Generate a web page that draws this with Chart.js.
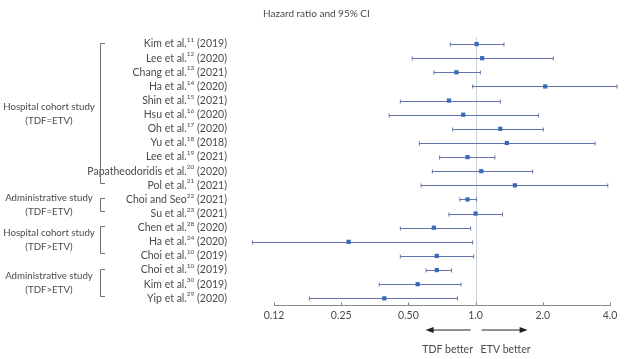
<!DOCTYPE html>
<html>
<head>
<meta charset="utf-8">
<script src="https://cdn.jsdelivr.net/npm/chart.js@4.4.1/dist/chart.umd.min.js"></script>
<style>
  html, body { margin: 0; padding: 0; background: #fff; }
  #wrap { width: 627px; height: 359px; position: relative; }
</style>
</head>
<body>
<div id="wrap"><canvas id="forest"></canvas></div>
<script>
// studies, top to bottom
const studies = ['Kim et al.', 'Lee et al.', 'Chang et al.', 'Ha et al.', 'Shin et al.', 'Hsu et al.',
  'Oh et al.', 'Yu et al.', 'Lee et al.', 'Papatheodoridis et al.', 'Pol et al.', 'Choi and Seo',
  'Su et al.', 'Chen et al.', 'Ha et al.', 'Choi et al.', 'Choi et al.', 'Kim et al.', 'Yip et al.']
const refs = ['11', '12', '13', '14', '15', '16', '17', '18', '19', '20', '21', '22', '23', '28', '24', '10', '10', '30', '29']
const years = ['2019', '2020', '2021', '2020', '2021', '2020', '2020', '2018', '2021', '2020', '2021', '2021',
  '2021', '2020', '2020', '2019', '2019', '2019', '2020']

// hazard ratio and 95% CI
const hr    = [1.01, 1.07, 0.82, 2.05, 0.76, 0.88, 1.29, 1.38, 0.92, 1.06, 1.50, 0.92, 1.00, 0.65, 0.27, 0.67, 0.67, 0.55, 0.39]
const lower = [0.77, 0.52, 0.65, 0.97, 0.46, 0.41, 0.79, 0.56, 0.69, 0.64, 0.57, 0.85, 0.76, 0.46, 0.10, 0.46, 0.60, 0.37, 0.18]
const upper = [1.34, 2.23, 1.05, 4.30, 1.29, 1.91, 2.01, 3.43, 1.22, 1.80, 3.91, 1.01, 1.32, 0.95, 0.97, 0.98, 0.78, 0.86, 0.83]

// groups (row numbers, 1 = top)
const groupTitles = ['Hospital cohort study', 'Administrative study', 'Hospital cohort study', 'Administrative study']
const groupSubs = ['(TDF=ETV)', '(TDF=ETV)', '(TDF>ETV)', '(TDF>ETV)']
const groupFirst = [1, 12, 14, 17]
const groupLast = [11, 13, 16, 19]

// x axis
const xTicks = [0.125, 0.25, 0.5, 1, 2, 4]
const xTickLabels = ['0.12', '0.25', '0.50', '1.0', '2.0', '4.0']

const FONT = 'Lato, "Open Sans", sans-serif'
const TXT = '#4a4a4a'

const points = hr.map((v, i) => ({ x: v, y: i + 1 }))

const forestPlugin = {
  id: 'forest',
  beforeDatasetsDraw(chart) {
    const ctx = chart.ctx
    const xs = chart.scales.x, ys = chart.scales.y
    ctx.save()
    // no-effect line at 1
    ctx.strokeStyle = '#c9d3df'
    ctx.lineWidth = 1
    ctx.beginPath()
    ctx.moveTo(Math.round(xs.getPixelForValue(1)) + 0.5, chart.chartArea.top)
    ctx.lineTo(Math.round(xs.getPixelForValue(1)) + 0.5, chart.chartArea.bottom)
    ctx.stroke()

    // CI bars
    ctx.strokeStyle = '#6673aa'
    for (let i = 0; i < hr.length; i++) {
      const y = Math.round(ys.getPixelForValue(i + 1)) + 0.5
      const x1 = xs.getPixelForValue(lower[i])
      const x2 = xs.getPixelForValue(upper[i])
      ctx.beginPath()
      ctx.moveTo(x1, y); ctx.lineTo(x2, y)
      ctx.moveTo(x1, y - 2); ctx.lineTo(x1, y + 2)
      ctx.moveTo(x2, y - 2); ctx.lineTo(x2, y + 2)
      ctx.stroke()
    }
    ctx.restore()
  },
  afterDraw(chart) {
    const ctx = chart.ctx
    const xs = chart.scales.x, ys = chart.scales.y
    const area = chart.chartArea
    ctx.save()

    // title
    ctx.fillStyle = TXT
    ctx.font = '10px ' + FONT
    ctx.textBaseline = 'middle'
    ctx.textAlign = 'left'
    ctx.fillText('Hazard ratio and 95% CI', area.left - 11, 14)

    // small upward ticks on the axis
    ctx.strokeStyle = '#8a8a8a'
    ctx.beginPath()
    xTicks.forEach(t => {
      const x = Math.round(xs.getPixelForValue(t)) + 0.5
      ctx.moveTo(x, area.bottom); ctx.lineTo(x, area.bottom - 3)
    })
    ctx.stroke()

    // study labels with superscript refs
    const right = 227
    for (let i = 0; i < studies.length; i++) {
      const y = ys.getPixelForValue(i + 1)
      ctx.textAlign = 'left'
      ctx.font = '10.5px ' + FONT
      const tail = ' (' + years[i] + ')'
      const wTail = ctx.measureText(tail).width
      const wName = ctx.measureText(studies[i]).width
      ctx.font = '6.5px ' + FONT
      const wSup = ctx.measureText(refs[i]).width
      let x = right - wTail - wSup - wName
      ctx.font = '10.5px ' + FONT
      ctx.fillText(studies[i], x, y)
      x += wName
      ctx.font = '6.5px ' + FONT
      ctx.fillText(refs[i], x, y - 4)
      x += wSup
      ctx.font = '10.5px ' + FONT
      ctx.fillText(tail, x, y)
    }

    // group brackets and labels
    ctx.strokeStyle = '#707070'
    ctx.lineWidth = 1
    for (let g = 0; g < groupTitles.length; g++) {
      const y1 = Math.round(ys.getPixelForValue(groupFirst[g] - 0.1)) + 0.5
      const y2 = Math.round(ys.getPixelForValue(groupLast[g] - 0.2)) + 0.5
      ctx.beginPath()
      ctx.moveTo(105, y1); ctx.lineTo(100.5, y1); ctx.lineTo(100.5, y2); ctx.lineTo(105, y2)
      ctx.stroke()
      const mid = (y1 + y2) / 2
      ctx.textAlign = 'center'
      ctx.font = '9.7px ' + FONT
      ctx.fillText(groupTitles[g], 49, mid - 7)
      ctx.fillText(groupSubs[g], 49, mid + 7)
    }

    // direction arrows
    const ay = 330
    const one = xs.getPixelForValue(1)
    ctx.strokeStyle = '#222'
    ctx.fillStyle = '#222'
    const arrow = (from, to) => {
      const dir = Math.sign(to - from)
      ctx.beginPath()
      ctx.moveTo(from, ay); ctx.lineTo(to - dir * 6, ay)
      ctx.stroke()
      ctx.beginPath()
      ctx.moveTo(to, ay); ctx.lineTo(to - dir * 8, ay - 3); ctx.lineTo(to - dir * 8, ay + 3)
      ctx.closePath(); ctx.fill()
    }
    arrow(one - 5, one - 50)
    arrow(one + 6, one + 52)
    ctx.fillStyle = TXT
    ctx.font = '10.5px ' + FONT
    ctx.textAlign = 'center'
    ctx.fillText('TDF better', one - 28, 350)
    ctx.fillText('ETV better', one + 30, 350)
    ctx.restore()
  }
}

new Chart(document.getElementById('forest'), {
  type: 'scatter',
  data: {
    datasets: [{
      data: points,
      pointStyle: 'rect',
      pointRadius: 3,
      pointHoverRadius: 3,
      backgroundColor: '#3b69b9',
      borderColor: '#3b69b9',
      borderWidth: 0,
      clip: false
    }]
  },
  options: {
    responsive: true,
    maintainAspectRatio: false,
    animation: false,
    events: [],
    layout: { padding: { left: 274, right: 17, top: 37, bottom: 33 } },
    plugins: { legend: { display: false }, tooltip: { enabled: false } },
    scales: {
      x: {
        type: 'logarithmic',
        min: 0.125,
        max: 4,
        afterBuildTicks: (axis) => { axis.ticks = xTicks.map(v => ({ value: v })) },
        ticks: {
          autoSkip: false,
          maxRotation: 0,
          padding: 4,
          color: TXT,
          font: { family: FONT, size: 10.5 },
          callback: (v) => xTickLabels[xTicks.indexOf(v)]
        },
        grid: { drawOnChartArea: false, drawTicks: false },
        border: { color: '#8a8a8a' }
      },
      y: {
        display: false,
        min: 0.5,
        max: 19.5,
        reverse: true
      }
    }
  },
  plugins: [forestPlugin]
})
</script>
</body>
</html>
